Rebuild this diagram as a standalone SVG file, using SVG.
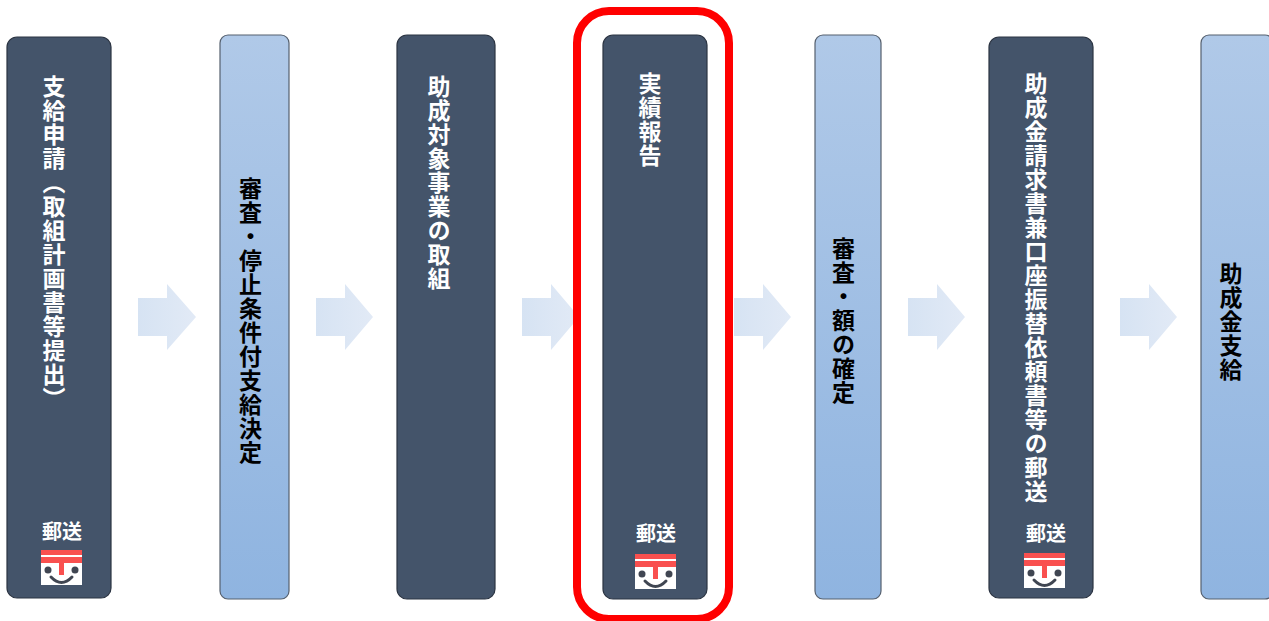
<svg xmlns="http://www.w3.org/2000/svg" width="1269" height="621" viewBox="0 0 1269 621">
<defs>
<linearGradient id="blue" x1="0" y1="0" x2="0" y2="1"><stop offset="0" stop-color="#b0c9e8"/><stop offset="1" stop-color="#8fb4e0"/></linearGradient>
<linearGradient id="arr" x1="0" y1="0" x2="1" y2="0"><stop offset="0" stop-color="#d6e3f3"/><stop offset="1" stop-color="#e2eaf6"/></linearGradient>
<g id="post">
<rect x="0" y="0" width="41" height="35" fill="#fff"/>
<rect x="0" y="0" width="41" height="5" fill="#f9504f"/>
<rect x="0" y="7" width="41" height="6" fill="#f9504f"/>
<rect x="18" y="13" width="5" height="12" fill="#f9504f"/>
<circle cx="7" cy="20" r="3.500" fill="#404652"/>
<circle cx="34" cy="20" r="3.500" fill="#404652"/>
<path d="M10 27 Q20.500 38 31 27" fill="none" stroke="#404652" stroke-width="3" stroke-linecap="round"/>
</g>
</defs>
<style>
.dark{fill:#44546a;stroke:#2b3442;stroke-width:1.200}
.light{fill:url(#blue);stroke:#55606e;stroke-width:1.200}
.v{font-family:"Noto Sans CJK JP","Liberation Sans",sans-serif;font-weight:700;font-size:23px;writing-mode:vertical-rl;letter-spacing:1px}
.w{fill:#fff}
.k{fill:#000}
.p{font-family:"Noto Sans CJK JP","Liberation Sans",sans-serif;font-weight:700;font-size:20px;fill:#fff;text-anchor:middle}
.a{fill:url(#arr)}
</style>
<rect width="1269" height="621" fill="#fff"/>
<g id="connectors">
<path class="a" d="M138 298H167V284L196 317L167 350V336H138Z"/>
<path class="a" d="M316 298H345V284L373 317L345 350V336H316Z"/>
<path class="a" d="M522 298H551V284L579 317L551 350V336H522Z"/>
<path class="a" d="M734 298H763V284L791 317L763 350V336H734Z"/>
<path class="a" d="M908 298H937V284L965 317L937 350V336H908Z"/>
<path class="a" d="M1120 298H1149V284L1177 317L1149 350V336H1120Z"/>
</g>
<g id="n1"><rect class="dark" x="7" y="37" width="104" height="561" rx="10"/><text class="v w" x="54" y="75">支給申請（取組計画書等提出）</text><text class="p" x="62" y="539">郵送</text><use href="#post" x="41" y="550"/></g>
<g id="n2"><rect class="light" x="220" y="35" width="69" height="564" rx="8"/><text class="v k" x="250.500" y="177">審査・停止条件付支給決定</text></g>
<g id="n3"><rect class="dark" x="397" y="35" width="98" height="564" rx="10"/><text class="v w" x="439" y="75">助成対象事業の取組</text></g>
<g id="n4"><rect class="dark" x="603" y="35" width="104" height="564" rx="10"/><text class="v w" x="650" y="72">実績報告</text><text class="p" x="656" y="541">郵送</text><use href="#post" x="635" y="554"/></g>
<g id="n5"><rect class="light" x="815" y="35" width="66" height="564" rx="8"/><text class="v k" x="843.500" y="237">審査・額の確定</text></g>
<g id="n6"><rect class="dark" x="989" y="37" width="104" height="561" rx="10"/><text class="v w" x="1036" y="72">助成金請求書兼口座振替依頼書等の郵送</text><text class="p" x="1046" y="541">郵送</text><use href="#post" x="1024" y="553"/></g>
<g id="n7"><rect class="light" x="1201" y="35" width="72" height="564" rx="8"/><text class="v k" x="1231" y="262">助成金支給</text></g>
<g id="highlight"><rect x="577" y="11" width="152" height="608" rx="32" fill="none" stroke="#ff0000" stroke-width="8"/></g>
</svg>
